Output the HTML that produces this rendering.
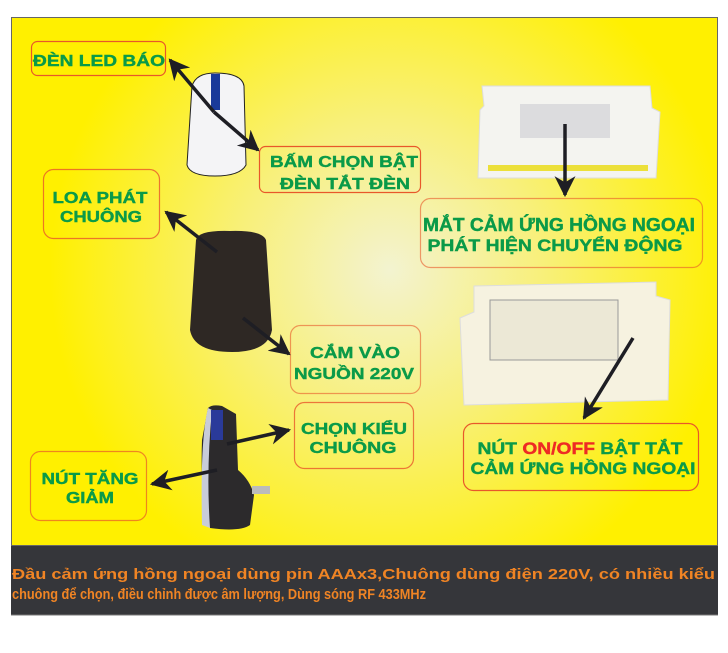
<!DOCTYPE html>
<html><head><meta charset="utf-8"><style>
html,body{margin:0;padding:0;background:#fff;width:728px;height:653px;overflow:hidden}
svg{display:block}
.t{font-family:"Liberation Sans",sans-serif;font-weight:bold;fill:#0a9a48;text-anchor:middle;stroke:#0a9a48;stroke-width:0.4}
.b{fill:none;stroke:#e8582a;stroke-width:1.2}
.a{stroke:#1e1e24;stroke-width:3.5;fill:none}
</style></head><body>
<svg width="728" height="653" viewBox="0 0 728 653">
<defs>
<radialGradient id="g" cx="390" cy="270" r="340" gradientUnits="userSpaceOnUse">
<stop offset="0" stop-color="#f3f3d0"/><stop offset="0.45" stop-color="#f8f07a"/><stop offset="1" stop-color="#fff000"/>
</radialGradient>
<marker id="m" viewBox="0 0 10 10" refX="9" refY="5" markerWidth="6" markerHeight="6" orient="auto"><path d="M0,0 L10,5 L0,10 L3,5z" fill="#1e1e24"/></marker>
</defs>
<rect x="11.5" y="17.5" width="706" height="528" fill="url(#g)" stroke="#666"/>
<rect x="11" y="546" width="707" height="69" fill="#35363a"/>
<line x1="11" y1="615" x2="718" y2="615" stroke="#777"/>
<text x="12" y="579" font-family="Liberation Sans,sans-serif" font-weight="bold" font-size="15" fill="#f08424" textLength="703" lengthAdjust="spacingAndGlyphs">Đầu cảm ứng hồng ngoại dùng pin AAAx3,Chuông dùng điện 220V, có nhiều kiểu</text>
<text x="12" y="599" font-family="Liberation Sans,sans-serif" font-weight="bold" font-size="15" fill="#f08424" textLength="414" lengthAdjust="spacingAndGlyphs">chuông để chọn, điều chỉnh được âm lượng, Dùng sóng RF 433MHz</text>

<!-- devices -->
<path d="M192,86 Q196,73 215,73 Q242,73 244,86 L246,165 Q240,176 215,176 Q190,176 187,165 Z" fill="#f4f4f6" stroke="#222" stroke-width="1"/>
<rect x="211" y="74" width="9" height="36" fill="#1a3a9a"/>
<path d="M196,240 Q198,230 230,231 Q262,230 266,240 L272,330 Q268,352 232,352 Q194,352 190,330 Z" fill="#2e2824"/>
<path d="M208,408 Q212,404 222,406 L236,414 L238,470 Q250,480 254,495 L250,525 Q240,532 210,528 Q200,500 202,440 Z" fill="#2c2a2c"/>
<path d="M208,408 Q200,440 202,525 L210,528 Q206,470 212,410 Z" fill="#c8ccd8"/>
<rect x="211" y="410" width="12" height="30" fill="#2a3a9a"/>
<rect x="252" y="486" width="18" height="8" fill="#bbb"/>
<path d="M482,86 L650,86 L652,108 L660,112 L656,178 L478,178 L480,110 L484,106 Z" fill="#f4f4f0" stroke="#ddd"/>
<rect x="520" y="104" width="90" height="34" fill="#dcdcde"/>
<rect x="488" y="165" width="160" height="6" fill="#ece03a"/>
<path d="M474,286 L656,282 L656,296 L670,300 L668,400 L464,405 L460,318 L474,312 Z" fill="#f6f2e0" stroke="#ddd"/>
<rect x="490" y="300" width="128" height="60" fill="#ece8d6" stroke="#999"/>

<!-- boxes -->
<rect class="b" x="31.5" y="41.5" width="134" height="34" rx="6"/>
<rect class="b" x="259.5" y="146.5" width="161" height="46" rx="6"/>
<rect class="b" x="43.5" y="169.5" width="116" height="69" rx="10" stroke-opacity="0.8"/>
<rect class="b" x="420.5" y="198.5" width="282" height="69" rx="10" stroke-opacity="0.6"/>
<rect class="b" x="290.5" y="325.5" width="130" height="68" rx="10" stroke-opacity="0.6"/>
<rect class="b" x="294.5" y="402.5" width="119" height="66" rx="10" stroke-opacity="0.8"/>
<rect class="b" x="30.5" y="451.5" width="116" height="69" rx="10" stroke-opacity="0.7"/>
<rect class="b" x="463.5" y="423.5" width="235" height="67" rx="10"/>

<!-- labels -->
<text class="t" x="99" y="66" font-size="16" textLength="132" lengthAdjust="spacingAndGlyphs">ĐÈN LED BÁO</text>
<text class="t" x="344" y="167" font-size="16" textLength="148" lengthAdjust="spacingAndGlyphs">BẤM CHỌN BẬT</text>
<text class="t" x="345" y="189" font-size="16" textLength="130" lengthAdjust="spacingAndGlyphs">ĐÈN TẮT ĐÈN</text>
<text class="t" x="100" y="203" font-size="16" textLength="95" lengthAdjust="spacingAndGlyphs">LOA PHÁT</text>
<text class="t" x="101" y="222" font-size="16" textLength="82" lengthAdjust="spacingAndGlyphs">CHUÔNG</text>
<text class="t" x="559" y="231" font-size="18" textLength="272" lengthAdjust="spacingAndGlyphs">MẮT CẢM ỨNG HỒNG NGOẠI</text>
<text class="t" x="555" y="251" font-size="17" textLength="255" lengthAdjust="spacingAndGlyphs">PHÁT HIỆN CHUYỂN ĐỘNG</text>
<text class="t" x="355" y="358" font-size="16" textLength="90" lengthAdjust="spacingAndGlyphs">CẮM VÀO</text>
<text class="t" x="354" y="379" font-size="16" textLength="120" lengthAdjust="spacingAndGlyphs">NGUỒN 220V</text>
<text class="t" x="354" y="434" font-size="16" textLength="106" lengthAdjust="spacingAndGlyphs">CHỌN KIỂU</text>
<text class="t" x="353" y="453" font-size="16" textLength="87" lengthAdjust="spacingAndGlyphs">CHUÔNG</text>
<text class="t" x="90" y="484" font-size="16" textLength="97" lengthAdjust="spacingAndGlyphs">NÚT TĂNG</text>
<text class="t" x="90" y="503" font-size="16" textLength="48" lengthAdjust="spacingAndGlyphs">GIẢM</text>
<text class="t" x="580" y="454" font-size="17" textLength="205" lengthAdjust="spacingAndGlyphs">NÚT <tspan fill="#ee2a24" stroke="#ee2a24">ON/OFF</tspan> BẬT TẮT</text>
<text class="t" x="583" y="474" font-size="17" textLength="225" lengthAdjust="spacingAndGlyphs">CẢM ỨNG HỒNG NGOẠI</text>

<!-- arrows -->
<line class="a" x1="214" y1="112" x2="170" y2="60" marker-end="url(#m)"/>
<line class="a" x1="214" y1="112" x2="258" y2="150" marker-end="url(#m)"/>
<line class="a" x1="217" y1="252" x2="166" y2="212" marker-end="url(#m)"/>
<line class="a" x1="243" y1="318" x2="289" y2="354" marker-end="url(#m)"/>
<line class="a" x1="217" y1="470" x2="152" y2="484" marker-end="url(#m)"/>
<line class="a" x1="227" y1="444" x2="289" y2="430" marker-end="url(#m)"/>
<line class="a" x1="565" y1="124" x2="565" y2="195" marker-end="url(#m)"/>
<line class="a" x1="633" y1="338" x2="584" y2="418" marker-end="url(#m)"/>
</svg>
</body></html>
